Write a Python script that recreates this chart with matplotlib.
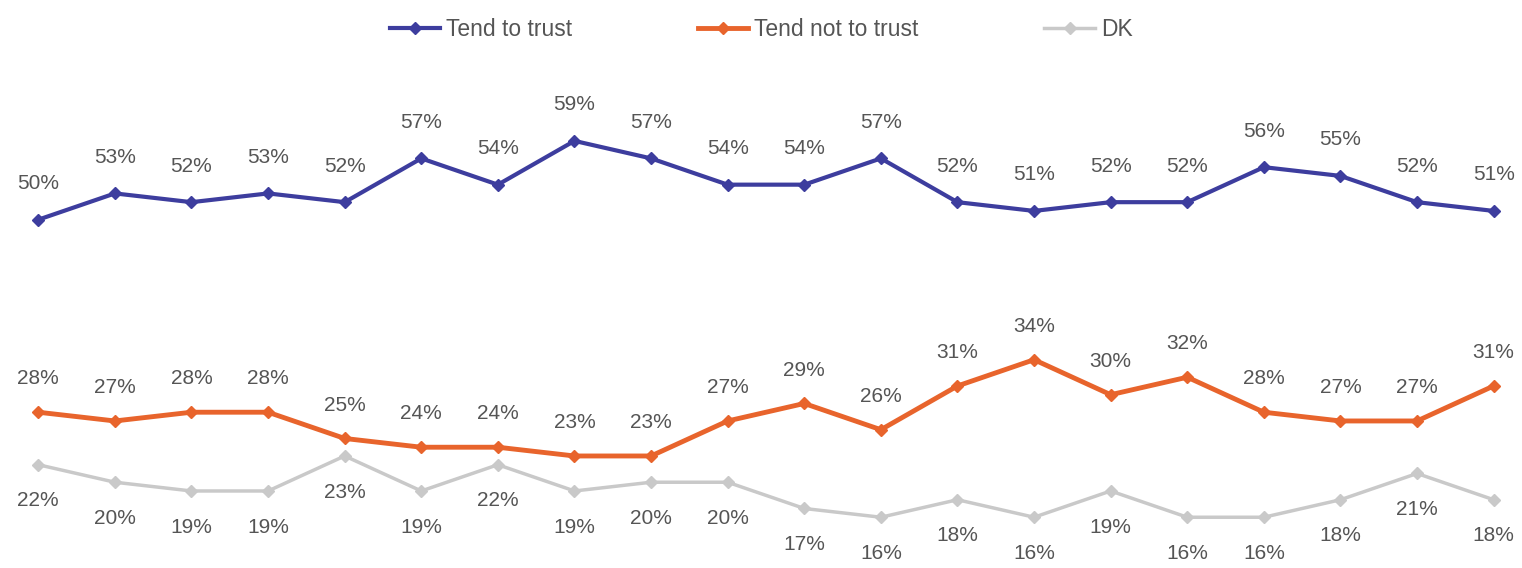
# Trust trend chart: three series with percentage labels
import matplotlib
matplotlib.use('Agg')
import matplotlib.pyplot as plt

waves = list(range(20))

trust = [50, 53, 52, 53, 52, 57, 54, 59, 57, 54, 54, 57, 52, 51, 52, 52, 56, 55, 52, 51]
not_trust = [28, 27, 28, 28, 25, 24, 24, 23, 23, 27, 29, 26, 31, 34, 30, 32, 28, 27, 27, 31]
dk = [22, 20, 19, 19, 23, 19, 22, 19, 20, 20, 17, 16, 18, 16, 19, 16, 16, 18, 21, 18]

series_names = ['Tend to trust', 'Tend not to trust', 'DK']

plt.rcParams['font.family'] = ['Liberation Sans', 'DejaVu Sans']

fig = plt.figure(figsize=(15.22, 5.68), dpi=100)
ax = fig.add_axes([0, 0, 1, 1])

styles = [
    (trust, '#3d3d9e', 3.0, 26),
    (not_trust, '#e8642c', 3.5, 24),
    (dk, '#c9c9c9', 2.5, -26),
]

for (vals, color, lw, off), name in zip(styles, series_names):
    ax.plot(waves, vals, color=color, linewidth=lw, marker='D', markersize=6,
            label=name)
    for x, v in zip(waves, vals):
        ax.annotate(f'{v}%', (x, v), xytext=(0, off), textcoords='offset points',
                    ha='center', va='center', fontsize=15, color='#555555')

ax.set_xlim(-0.5, 19.37)
ax.set_ylim(10.2, 75.1)
ax.axis('off')

fig.legend(loc='upper center', bbox_to_anchor=(0.5, 1.0), ncol=3, frameon=False,
           fontsize=16.5, handlelength=2.2, handletextpad=0.25, columnspacing=5.5,
           labelcolor='#555555', borderaxespad=0.4)

plt.savefig('out.png', dpi=100)
